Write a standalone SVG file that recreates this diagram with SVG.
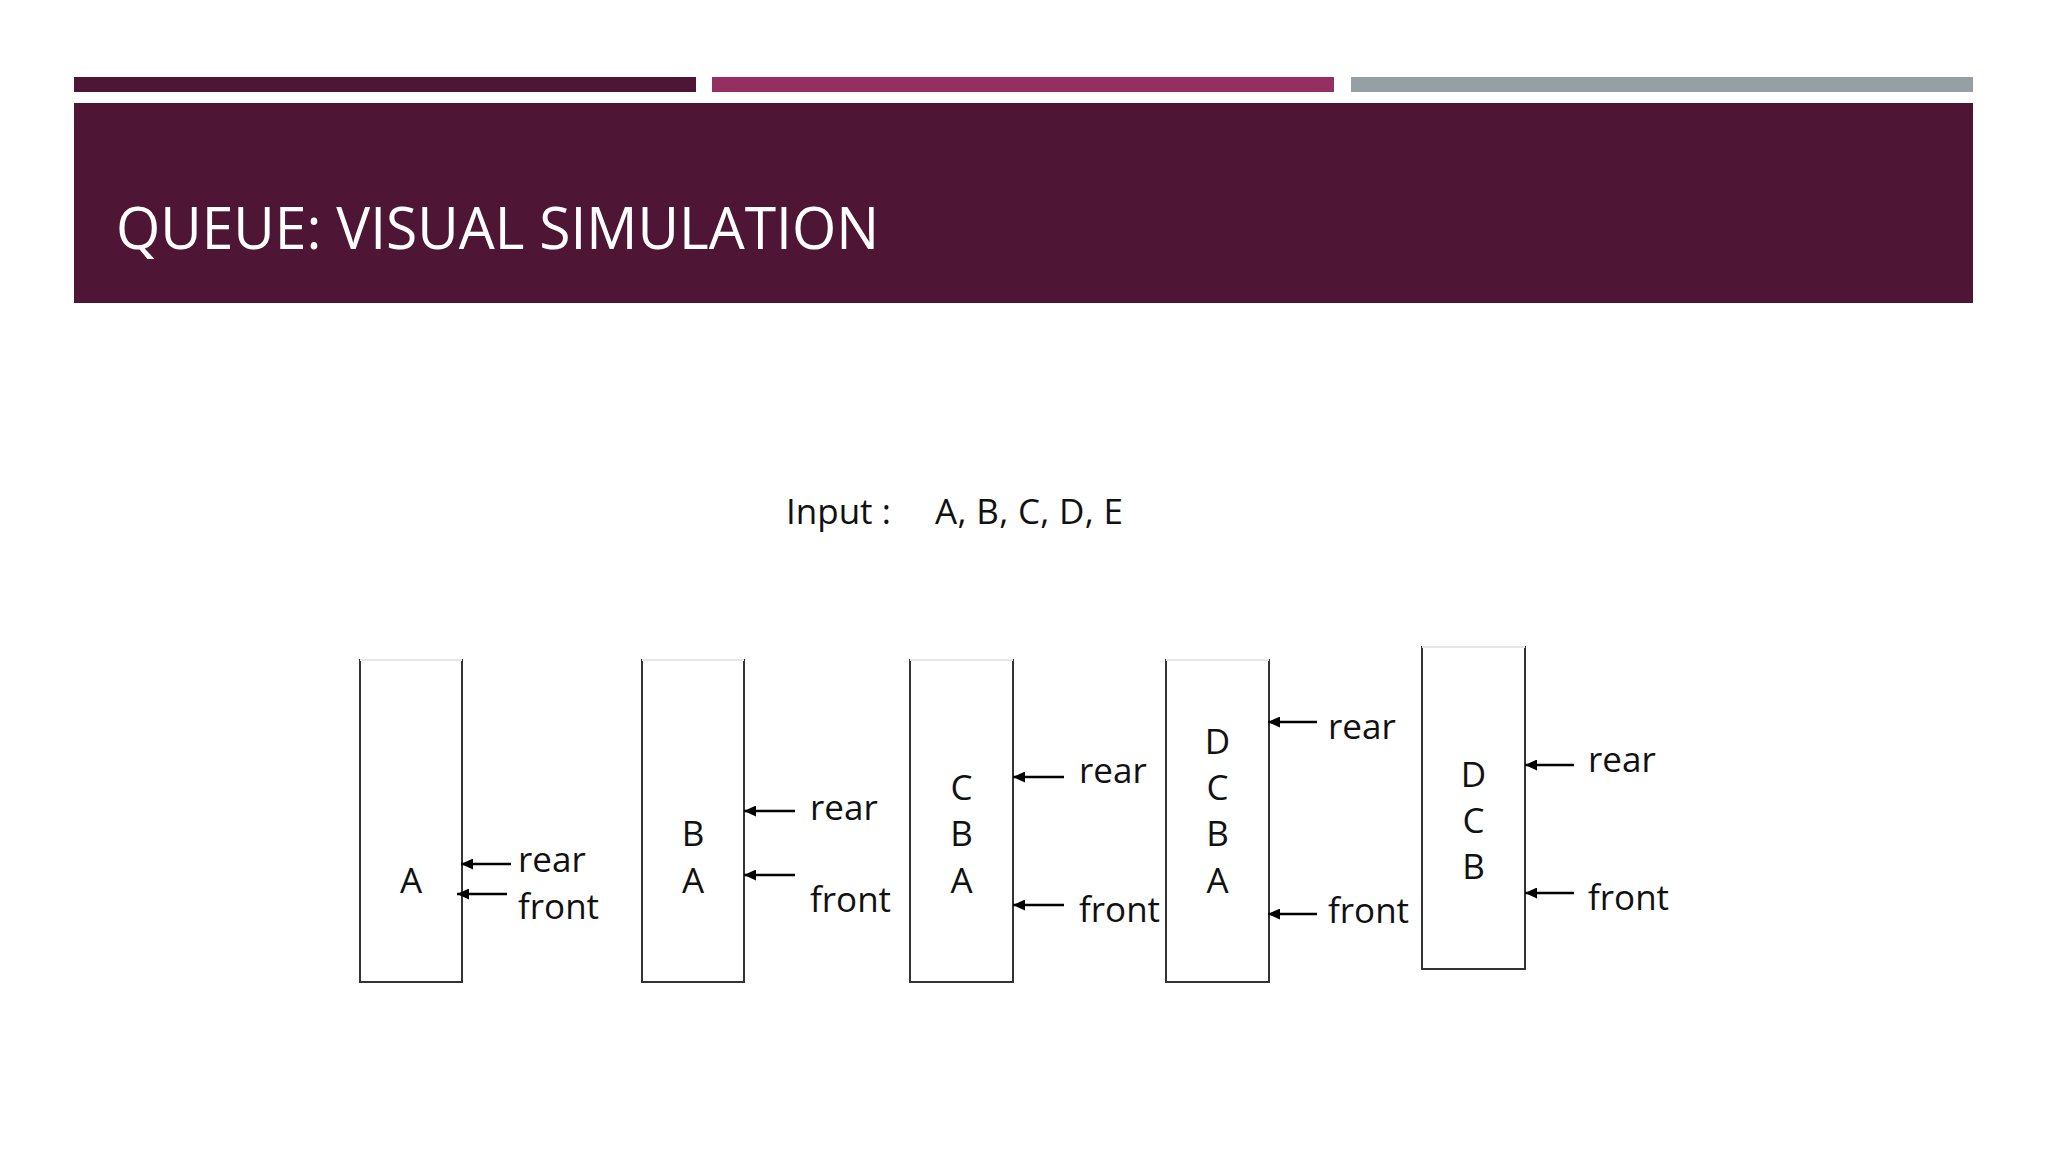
<svg xmlns="http://www.w3.org/2000/svg" width="2048" height="1152" viewBox="0 0 2048 1152">
<defs>
<style>
.box{fill:#fff;stroke:#333;stroke-width:2}
.top{stroke:#e6e6e6;stroke-width:2}
.t{font-family:"Open Sans","Noto Sans","DejaVu Sans",sans-serif;font-size:35px;fill:#111}
.c{text-anchor:middle}
.arr{stroke:#000;stroke-width:2.5;fill:none;marker-end:url(#ah)}
</style>
<marker id="ah" markerUnits="userSpaceOnUse" markerWidth="12" markerHeight="11" refX="12" refY="5.5" orient="auto">
<path d="M0,0 L12,5.5 L0,11 z" fill="#000"/>
</marker>
</defs>
<rect width="2048" height="1152" fill="#fff"/>
<g id="header">
<rect x="74" y="77" width="622" height="15" fill="#4e1535"/>
<rect x="712" y="77" width="622" height="15" fill="#952f61"/>
<rect x="1351" y="77" width="622" height="15" fill="#969fa3"/>
<rect x="74" y="103" width="1899" height="200" fill="#4e1535"/>
<text x="116" y="249" font-family="'Open Sans','Noto Sans','DejaVu Sans',sans-serif" font-weight="400" font-size="58" fill="#fff" textLength="763" lengthAdjust="spacingAndGlyphs">QUEUE: VISUAL SIMULATION</text>
</g>
<g id="input">
<text class="t" x="786" y="524">Input :</text>
<text class="t" x="935" y="524" textLength="188" lengthAdjust="spacing">A, B, C, D, E</text>
</g>
<g id="queue1">
<rect class="box" x="360" y="660" width="102" height="322"/>
<line class="top" x1="360" y1="660" x2="462" y2="660"/>
<text class="t c" x="411" y="893">A</text>
</g>
<g id="queue2">
<rect class="box" x="642" y="660" width="102" height="322"/>
<line class="top" x1="642" y1="660" x2="744" y2="660"/>
<text class="t c" x="693" y="846">B</text>
<text class="t c" x="693" y="893">A</text>
</g>
<g id="queue3">
<rect class="box" x="910" y="660" width="103" height="322"/>
<line class="top" x1="910" y1="660" x2="1013" y2="660"/>
<text class="t c" x="961.5" y="800">C</text>
<text class="t c" x="961.5" y="846">B</text>
<text class="t c" x="961.5" y="893">A</text>
</g>
<g id="queue4">
<rect class="box" x="1166" y="660" width="103" height="322"/>
<line class="top" x1="1166" y1="660" x2="1269" y2="660"/>
<text class="t c" x="1217.5" y="754">D</text>
<text class="t c" x="1217.5" y="800">C</text>
<text class="t c" x="1217.5" y="846">B</text>
<text class="t c" x="1217.5" y="893">A</text>
</g>
<g id="queue5">
<rect class="box" x="1422" y="647" width="103" height="322"/>
<line class="top" x1="1422" y1="647" x2="1525" y2="647"/>
<text class="t c" x="1473.5" y="787">D</text>
<text class="t c" x="1473.5" y="833">C</text>
<text class="t c" x="1473.5" y="879">B</text>
</g>
<g id="labels">
<text class="t" x="518" y="872">rear</text>
<text class="t" x="518" y="919">front</text>
<text class="t" x="810" y="820">rear</text>
<text class="t" x="810" y="912">front</text>
<text class="t" x="1079" y="783">rear</text>
<text class="t" x="1079" y="922">front</text>
<text class="t" x="1328" y="739">rear</text>
<text class="t" x="1328" y="923">front</text>
<text class="t" x="1588" y="772">rear</text>
<text class="t" x="1588" y="910">front</text>
</g>
<g id="connectors">
<line class="arr" x1="511" y1="864" x2="461" y2="864"/>
<line class="arr" x1="507" y1="894" x2="457" y2="894"/>
<line class="arr" x1="795" y1="811" x2="744" y2="811"/>
<line class="arr" x1="795" y1="875" x2="744" y2="875"/>
<line class="arr" x1="1064" y1="777" x2="1013" y2="777"/>
<line class="arr" x1="1064" y1="905" x2="1013" y2="905"/>
<line class="arr" x1="1317" y1="722" x2="1268" y2="722"/>
<line class="arr" x1="1317" y1="914" x2="1268" y2="914"/>
<line class="arr" x1="1574" y1="765" x2="1525" y2="765"/>
<line class="arr" x1="1574" y1="893" x2="1525" y2="893"/>
</g>
</svg>
